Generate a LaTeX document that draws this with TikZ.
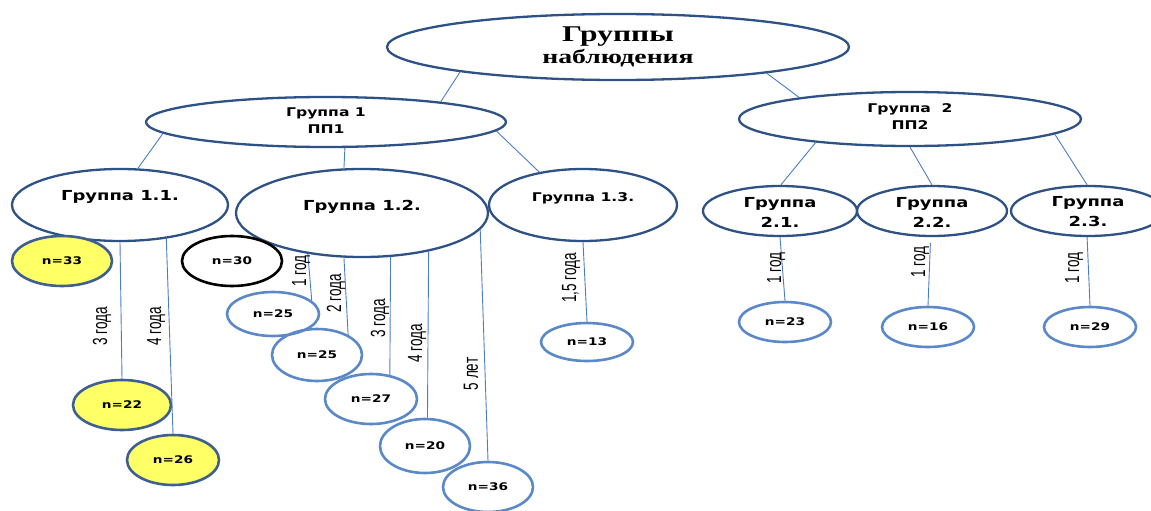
\documentclass[tikz,border=0pt]{standalone}
\usepackage{fontspec}
\setmainfont{DejaVu Sans}
\newfontfamily\grpf[FakeStretch=1.3]{DejaVu Sans}
\newfontfamily\ttlf[FakeStretch=1.4]{Liberation Serif}
\newfontfamily\labf[FakeStretch=0.66]{Liberation Sans}
\usetikzlibrary{shapes.geometric}
\definecolor{navy}{HTML}{2F5286}
\definecolor{leafc}{HTML}{5A88C8}
\definecolor{yel}{HTML}{FFFF66}
\definecolor{yelc}{HTML}{3E5F90}
\definecolor{connc}{HTML}{4A7DC6}
\tikzset{
  grp/.style={ellipse, draw=navy, line width=2.3pt, inner sep=0pt},
  leaf/.style={ellipse, draw=leafc, line width=2.6pt, inner sep=0pt, minimum width=92pt, minimum height=50pt,
    font=\grpf\bfseries\fontsize{10.5}{12}\selectfont},
  yleaf/.style={leaf, draw=yelc, fill=yel},
  bleaf/.style={leaf, draw=black},
  gtxt/.style={inner sep=0pt, align=center, font=\grpf\bfseries\fontsize{12}{17}\selectfont},
  gtxtbig/.style={inner sep=0pt, align=center, font=\grpf\bfseries\fontsize{13.8}{20}\selectfont},
  conline/.style={draw=connc, line width=0.9pt},
  lab/.style={rotate=90, inner sep=0pt, font=\labf\fontsize{20.5}{22}\selectfont},
}
\begin{document}
\begin{tikzpicture}[x=1pt,y=-1pt]
\useasboundingbox (0,0) rectangle (1151,511);
% top
\node[grp, minimum width=462pt, minimum height=66pt] (top) at (618,47) {};
\node[inner sep=0pt, font=\ttlf\bfseries\fontsize{22.5}{24}\selectfont] (topa) at (618,37) {Группы};
\node[inner sep=0pt, font=\ttlf\bfseries\fontsize{19.8}{22}\selectfont] (topb) at (618,58) {наблюдения};
% level 1
\node[grp, minimum width=360pt, minimum height=50pt] (g1) at (326,122) {};
\node[gtxt] (g1t) at (326,121) {Группа 1\\ПП1};
\node[grp, minimum width=342pt, minimum height=54pt] (g2) at (910,119) {};
\node[gtxt] (g2t) at (910,117) {Группа\ \ 2\\ПП2};
% level 2
\node[grp, minimum width=216pt, minimum height=72pt] (g11) at (120,205) {};
\node[gtxtbig] (g11t) at (120,197) {Группа 1.1.};
\node[grp, minimum width=252pt, minimum height=88pt] (g12) at (362,213) {};
\node[gtxtbig] (g12t) at (362,207) {Группа 1.2.};
\node[grp, minimum width=188pt, minimum height=72pt] (g13) at (583,205) {};
\node[gtxt] (g13t) at (583,198) {Группа 1.3.};
\node[grp, minimum width=154pt, minimum height=50pt] (g21) at (780,211) {};
\node[gtxtbig] (g21t) at (780,212) {Группа\\2.1.};
\node[grp, minimum width=150pt, minimum height=50pt] (g22) at (932,211) {};
\node[gtxtbig] (g22t) at (932,212) {Группа\\2.2.};
\node[grp, minimum width=154pt, minimum height=50pt] (g23) at (1088,211) {};
\node[gtxtbig] (g23t) at (1088,212) {Группа\\2.3.};
% leaves
\node[yleaf, minimum width=100pt] (n33) at (62,261) {n=33};
\node[bleaf, minimum width=100pt] (n30) at (232,261) {n=30};
\node[yleaf, minimum width=98pt] (n22) at (122,405) {n=22};
\node[yleaf] (n26) at (173,460) {n=26};
\node[leaf, minimum height=44pt] (n25a) at (273,314) {n=25};
\node[leaf, minimum width=90pt, minimum height=52pt] (n25b) at (317,355) {n=25};
\node[leaf] (n27) at (371,399) {n=27};
\node[leaf, minimum width=90pt, minimum height=54pt] (n20) at (425,446) {n=20};
\node[leaf, minimum width=90pt] (n36) at (488,487) {n=36};
\node[leaf, minimum height=38pt] (n13) at (587,342) {n=13};
\node[leaf, minimum height=40pt] (n23) at (785,322) {n=23};
\node[leaf, minimum height=40pt] (n16) at (928,327) {n=16};
\node[leaf, minimum height=40pt] (n29) at (1090,327) {n=29};
% connectors
\draw[conline] (top.-171.7) -- (g1.10);
\draw[conline] (top.-10.6) -- (g2.169);
\draw[conline] (g1.-176) -- (g11.64);
\draw[conline] (g1.-54) -- (g12.112.5);
\draw[conline] (g1.-3.6) -- (g13.143.3);
\draw[conline] (g2.-166) -- (g21.88);
\draw[conline] (g2.-90) -- (g22.90);
\draw[conline] (g2.-6.7) -- (g23.92);
\draw[conline] (g11.-90) -- (n22.north);
\draw[conline] (g11.-36.8) -- (n26.north);
\draw[conline] (g12.-143.7) -- (n25a.19);
\draw[conline] (g12.-112.5) -- (n25b.33);
\draw[conline] (g12.-57.9) -- (n27.52);
\draw[conline] (g12.-30.6) -- (n20.85);
\draw[conline] (g12.-8.4) -- (n36.north);
\draw[conline] (g13.-90) -- (n13.north);
\draw[conline] (g21.-90) -- (n23.north);
\draw[conline, shorten <=6pt] (g22.-93) -- (n16.north);
\draw[conline] (g23.-92) -- (n29.north);
% labels
\node[lab] (l1) at (102,326) {3 года};
\node[lab] (l2) at (156,326) {4 года};
\node[lab] (l3) at (301,271) {1 год};
\node[lab] (l4) at (336,293) {2 года};
\node[lab] (l5) at (380,318) {3 года};
\node[lab] (l6) at (417,343) {4 года};
\node[lab] (l7) at (471,374) {5 лет};
\node[lab] (l8) at (571,278) {1,5 года};
\node[lab] (l9) at (776,268) {1 год};
\node[lab] (l10) at (920,262) {1 год};
\node[lab] (l11) at (1074,268) {1 год};
\end{tikzpicture}
\end{document}
